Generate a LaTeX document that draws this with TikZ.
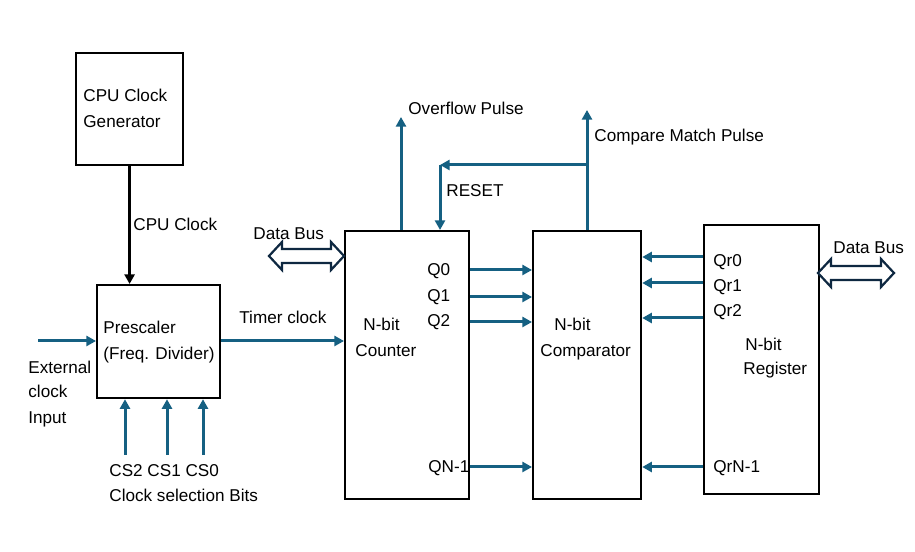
\documentclass[tikz,border=0pt]{standalone}
\usepackage{fontspec}
\setmainfont{Liberation Sans}
\usetikzlibrary{arrows.meta}

\definecolor{sigblue}{HTML}{156082}
\definecolor{busnavy}{HTML}{0E2841}

\tikzset{
    box/.style={draw, line width=1.1bp, anchor=north west, inner sep=0pt},
    sig/.style={sigblue, line width=1.5bp, -{Triangle[length=4.8bp,width=5bp]}},
    clk/.style={black, line width=1.4bp, -{Triangle[length=4.8bp,width=5bp]}},
    lbl/.style={anchor=base west, inner sep=0pt},
    bus/.style={draw=busnavy, fill=white, line width=1.1bp, line join=miter}
}

\begin{document}
\begin{tikzpicture}[x=0.5bp, y=-0.5bp, font=\fontsize{8.6}{10.5}\selectfont]

        \useasboundingbox (0,0) rectangle (915,552);

        %Blocks
        \node[box, minimum width=53.5bp, minimum height=56bp] (cpu) at (75,52) {};
        \node[box, minimum width=61.5bp, minimum height=56.5bp] (pre) at (96,284) {};
        \node[box, minimum width=62bp, minimum height=134bp] (cnt) at (344,230) {};
        \node[box, minimum width=54bp, minimum height=134bp] (cmp) at (532,230) {};
        \node[box, minimum width=57.5bp, minimum height=134.5bp] (reg) at (703,224) {};

        %Block texts
        \node[lbl] (cpu1) at (83,102) {CPU Clock};
        \node[lbl] (cpu2) at (83,128) {Generator};
        \node[lbl] (pre1) at (103,334) {Prescaler};
        \node[lbl] (pre2) at (103,360) {(Freq. Divider)};
        \node[lbl] (cnt1) at (363,331) {N-bit};
        \node[lbl] (cnt2) at (355,357) {Counter};
        \node[lbl] (cmp1) at (554,331) {N-bit};
        \node[lbl] (cmp2) at (540,357) {Comparator};
        \node[lbl] (reg1) at (745,351) {N-bit};
        \node[lbl] (reg2) at (743,375) {Register};

        %Clock path
        \draw[clk] (cpu.south) -- (cpu.south |- pre.north);
        \node[lbl] (cpuclk) at (133,231) {CPU Clock};

        \coordinate (ext) at (38,341);
        \draw[sig] (ext) -- (ext -| pre.west);
        \node[lbl] (ext1) at (28,374) {External};
        \node[lbl] (ext2) at (28,398) {clock};
        \node[lbl] (ext3) at (28,424) {Input};

        \draw[sig] (pre.east |- ext) -- (ext -| cnt.west);
        \node[lbl] (tmr) at (239,324) {Timer clock};

        %Clock selection bits
        \foreach \n/\x in {cs2/125, cs1/167, cs0/203} {
            \coordinate (\n) at (\x,455);
            \draw[sig] (\n) -- (\n |- pre.south);
        }
        \node[lbl] (csl) at (109,477) {CS2 CS1 CS0};
        \node[lbl] (csb) at (109,502) {Clock selection Bits};

        %Overflow, compare match and reset
        \coordinate (ovf) at (401,117);
        \draw[sig] (ovf |- cnt.north) -- (ovf);
        \node[lbl] (ovfl) at (408,115) {Overflow Pulse};

        \coordinate (cmpo) at (587,110);
        \draw[sig] (cmpo |- cmp.north) -- (cmpo);
        \node[lbl] (cmpl) at (594,142) {Compare Match Pulse};

        \coordinate (rst) at (440,165);
        \draw[sig] (cmpo |- rst) -- (rst);
        \draw[sig] (rst) -- (rst |- cnt.north);
        \node[lbl] (rstl) at (446,197) {RESET};

        %Counter outputs
        \foreach \n/\y in {q0/270, q1/297, q2/322, qn/467} {
            \coordinate (\n) at (500,\y);
            \draw[sig] (\n -| cnt.east) -- (\n -| cmp.west);
        }
        \node[lbl] (q0l) at (427,276) {Q0};
        \node[lbl] (q1l) at (427,302) {Q1};
        \node[lbl] (q2l) at (427,327) {Q2};
        \node[lbl] (qnl) at (428,473) {QN-1};

        %Register outputs
        \foreach \n/\y in {r0/257, r1/283, r2/318, rn/467} {
            \coordinate (\n) at (670,\y);
            \draw[sig] (\n -| reg.west) -- (\n -| cmp.east);
        }
        \node[lbl] (r0l) at (713,267) {Qr0};
        \node[lbl] (r1l) at (713,292) {Qr1};
        \node[lbl] (r2l) at (713,317) {Qr2};
        \node[lbl] (rnl) at (713,473) {QrN-1};

        %Data buses
        \draw[bus] (269,256) -- (282,242) -- (282,249) -- (331,249) -- (331,242) -- (344,256)
            -- (331,270) -- (331,263) -- (282,263) -- (282,270) -- cycle;
        \node[lbl] (dbl) at (253,240) {Data Bus};

        \draw[bus] (818,273) -- (831,259) -- (831,266) -- (881,266) -- (881,259) -- (894,273)
            -- (881,287) -- (881,280) -- (831,280) -- (831,287) -- cycle;
        \node[lbl] (dbr) at (833,254) {Data Bus};

    \end{tikzpicture}
\end{document}
